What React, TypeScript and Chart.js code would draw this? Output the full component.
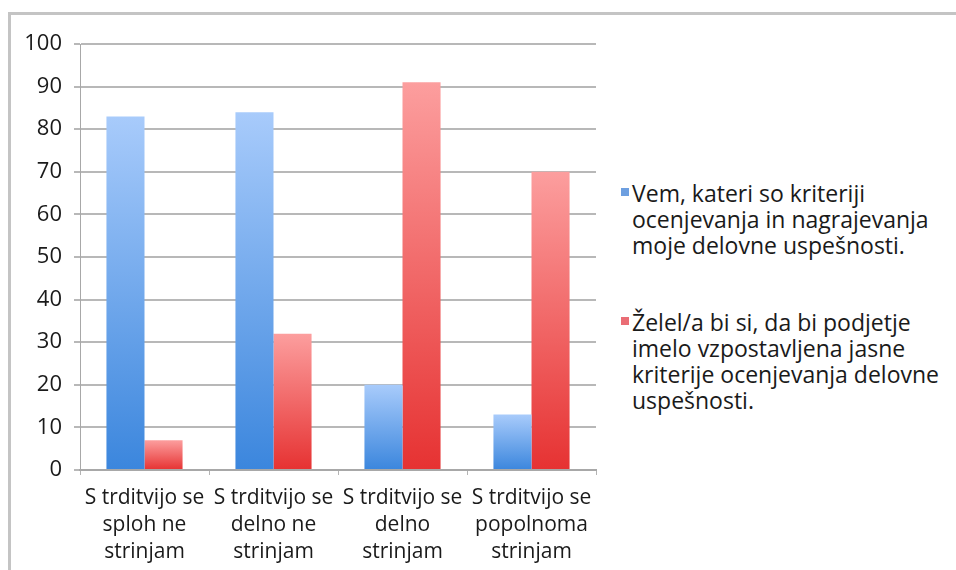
import React, { useEffect, useRef } from "react";
import { Chart, registerables } from "chart.js";

Chart.register(...registerables);

const categories: string[][] = [
  ["S trditvijo se", "sploh ne", "strinjam"],
  ["S trditvijo se", "delno ne", "strinjam"],
  ["S trditvijo se", "delno", "strinjam"],
  ["S trditvijo se", "popolnoma", "strinjam"],
];
const seriesNames: string[][] = [
  ["Vem, kateri so kriteriji", "ocenjevanja in nagrajevanja", "moje delovne uspešnosti."],
  ["Želel/a bi si, da bi podjetje", "imelo vzpostavljena jasne", "kriterije ocenjevanja delovne", "uspešnosti."],
];
const knowValues = [83, 84, 20, 13];
const wishValues = [7, 32, 91, 70];
const yTicks = [0, 10, 20, 30, 40, 50, 60, 70, 80, 90, 100];

const blueTop = "#a8cbfb";
const blueBottom = "#3b86dd";
const redTop = "#fc9e9e";
const redBottom = "#e63232";
const legendColors = ["#6d9fe0", "#ea6d75"];

function gradientFor(top: string, bottom: string) {
  return (ctx: any) => {
    const chart = ctx.chart;
    const y = chart.scales?.y;
    if (!y || ctx.type !== "data") return bottom;
    const v = ctx.raw as number;
    const yTop = y.getPixelForValue(v);
    const yBase = y.getPixelForValue(0);
    if (!isFinite(yTop) || !isFinite(yBase) || yBase - yTop < 1) return bottom;
    const g = chart.ctx.createLinearGradient(0, yTop, 0, yBase);
    g.addColorStop(0, top);
    g.addColorStop(1, bottom);
    return g;
  };
}

const FONT = "'Open Sans', sans-serif";

export default function App() {
  const ref = useRef<HTMLCanvasElement | null>(null);
  useEffect(() => {
    if (!ref.current) return;
    const chart = new Chart(ref.current, {
      type: "bar",
      data: {
        labels: categories,
        datasets: [
          {
            label: seriesNames[0].join(" "),
            data: knowValues,
            backgroundColor: gradientFor(blueTop, blueBottom),
            borderWidth: 0,
            categoryPercentage: 0.59,
            barPercentage: 1,
          },
          {
            label: seriesNames[1].join(" "),
            data: wishValues,
            backgroundColor: gradientFor(redTop, redBottom),
            borderWidth: 0,
            categoryPercentage: 0.59,
            barPercentage: 1,
          },
        ],
      },
      options: {
        animation: false,
        responsive: false,
        maintainAspectRatio: false,
        layout: { padding: { top: 44, right: 14, left: 0, bottom: 0 } },
        plugins: { legend: { display: false }, tooltip: { enabled: false } },
        scales: {
          x: {
            grid: {
              display: true,
              drawOnChartArea: false,
              drawTicks: true,
              tickLength: 5,
              color: "#b4b4b4",
              lineWidth: 1,
              offset: true,
            },
            border: { display: true, color: "#a8a8a8", width: 2 },
            ticks: {
              color: "#1a1a1a",
              font: { family: FONT, size: 21, lineHeight: 1.3 },
              padding: 9,
              maxRotation: 0,
              autoSkip: false,
            },
            afterFit: (s: any) => {
              s.height = 100;
            },
          },
          y: {
            min: 0,
            max: 100,
            afterBuildTicks: (s: any) => {
              s.ticks = yTicks.map((v) => ({ value: v }));
            },
            grid: {
              color: "#b8b8b8",
              lineWidth: 2,
              tickLength: 6,
              drawTicks: true,
            },
            border: { display: true, color: "#a8a8a8", width: 1 },
            ticks: {
              color: "#1a1a1a",
              font: { family: FONT, size: 22 },
              padding: 12,
            },
            afterFit: (s: any) => {
              s.width = 80;
            },
          },
        },
      },
    });
    return () => chart.destroy();
  }, []);

  return (
    <div
      style={{
        position: "absolute",
        left: 0,
        top: 0,
        width: 956,
        height: 570,
        background: "#fff",
        overflow: "hidden",
        fontFamily: FONT,
      }}
    >
      <div
        style={{
          position: "absolute",
          left: 8,
          top: 12,
          width: 960,
          height: 570,
          borderTop: "3px solid #c4c4c4",
          borderLeft: "3px solid #c4c4c4",
        }}
      />
      <canvas
        ref={ref}
        width={610}
        height={570}
        style={{ position: "absolute", left: 0, top: 0, width: 610, height: 570 }}
      />
      {seriesNames.map((lines, i) => (
        <div
          key={i}
          style={{
            position: "absolute",
            left: 618,
            top: i === 0 ? 180 : 309,
            fontSize: 23,
            lineHeight: "26px",
            color: "#1a1a1a",
            whiteSpace: "nowrap",
          }}
        >
          <span
            style={{
              position: "absolute",
              left: 3,
              top: 8,
              width: 8,
              height: 8,
              background: legendColors[i],
            }}
          />
          <div style={{ paddingLeft: 14 }}>
            {lines.map((l, j) => (
              <div key={j}>{l}</div>
            ))}
          </div>
        </div>
      ))}
    </div>
  );
}
